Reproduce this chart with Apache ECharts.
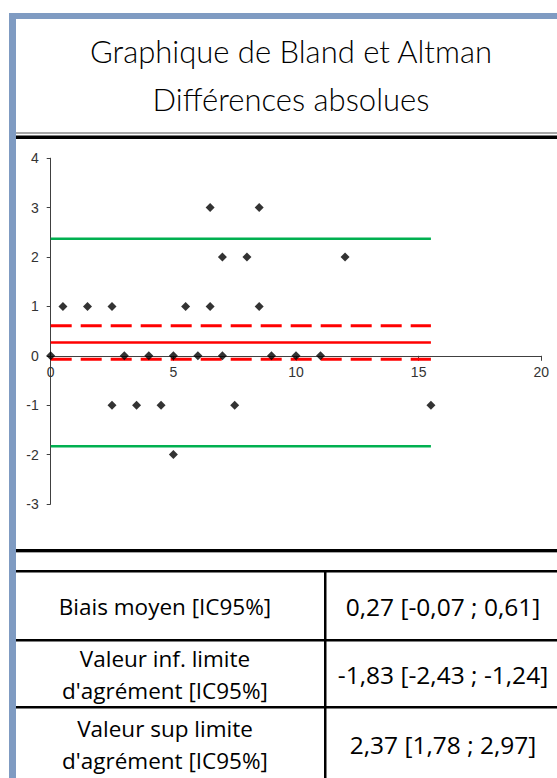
<!DOCTYPE html>
<html><head><meta charset="utf-8">
<script src="https://cdn.jsdelivr.net/npm/echarts@6/dist/echarts.min.js"></script>
<style>html,body{margin:0;padding:0;background:#fff}#c{width:557px;height:778px}</style>
</head><body><div id="c"></div>
<script>
// ---- data ----
const titleLines = ['Graphique de Bland et Altman', 'Différences absolues'];
const xValues = [0, 0.5, 1.5, 2.5, 2.5, 3, 3.5, 4, 4.5, 5, 5, 5.5, 6, 6.5, 6.5, 7, 7, 7.5, 8, 8.5, 8.5, 9, 10, 11, 12, 15.5];
const yValues = [0, 1, 1, 1, -1, 0, -1, 0, -1, 0, -2, 1, 0, 3, 1, 2, 0, -1, 2, 3, 1, 0, 0, 0, 2, -1];
const bias = 0.27;
const biasCI = [-0.07, 0.61];
const loa = [-1.83, 2.37];
const lineStartX = 0;
const lineEndX = 15.5;
const xRange = [0, 20, 5];
const yRange = [-3, 4, 1];
const tableLeft = [['Biais moyen [IC95%]'], ['Valeur inf. limite', "d'agrément [IC95%]"], ['Valeur sup limite', "d'agrément [IC95%]"]];
const tableRight = ['0,27 [-0,07 ; 0,61]', '-1,83 [-2,43 ; -1,24]', '2,37 [1,78 ; 2,97]'];

// ---- chart ----
const chart = echarts.init(document.getElementById('c'), null, {renderer: 'svg'});
const hline = (y, color, width, dash) => ({
  type: 'line', data: [[lineStartX, y], [lineEndX, y]], symbol: 'none', silent: true,
  lineStyle: {color: color, width: width, type: dash ? [21, 9] : 'solid', cap: 'butt'}, z: 1
});
const pts = xValues.map((x, i) => [x, yValues[i]]);

const gridTop = 158.2, gridH = 345.8;
const zeroOffset = gridH * (0 - yRange[0]) / (yRange[1] - yRange[0]);

const graphics = [];
const rect = (x, y, w, h, fill) => graphics.push({type: 'rect', shape: {x, y, width: w, height: h}, style: {fill}, silent: true, z: 100});
rect(9, 13, 7, 765, '#7f9bc2');
rect(9, 13, 548, 6, '#7f9bc2');
rect(16, 132, 541, 2, '#a6a6a6');
rect(16, 135.5, 541, 3.5, '#000');
rect(16, 549, 541, 3, '#000');
rect(16, 552, 541, 1, '#a6a6a6');
rect(16, 570, 541, 2.5, '#000');
rect(324, 570, 2.5, 208, '#000');
rect(16, 639, 541, 2.5, '#000');
rect(16, 706, 541, 2.5, '#000');
const titleY = [51, 99];
titleLines.forEach((t, i) => graphics.push({type: 'text', x: 291, y: titleY[i], silent: true,
  style: {text: t, font: '300 31px Lato', fill: '#000', align: 'center', verticalAlign: 'middle'}}));
const rowCenters = [606, 674, 744];
tableLeft.forEach((lines, i) => {
  const n = lines.length;
  lines.forEach((t, j) => graphics.push({type: 'text', x: 165, y: rowCenters[i] + (j - (n - 1) / 2) * 32, silent: true,
    style: {text: t, font: '22.5px "Open Sans"', fill: '#000', align: 'center', verticalAlign: 'middle'}}));
});
tableRight.forEach((t, i) => graphics.push({type: 'text', x: 443, y: rowCenters[i], silent: true,
  style: {text: t, font: '24.5px "Open Sans"', fill: '#000', align: 'center', verticalAlign: 'middle'}}));

const labelStyle = {color: '#333', fontFamily: '"Liberation Sans", Arial', fontSize: 14};
chart.setOption({
  animation: false,
  backgroundColor: '#fff',
  grid: {left: 50.7, top: gridTop, width: 490.6, height: gridH, containLabel: false},
  xAxis: {type: 'value', min: xRange[0], max: xRange[1], interval: xRange[2], position: 'bottom', offset: -zeroOffset,
    axisLine: {show: true, onZero: false, lineStyle: {color: '#404040', width: 1}},
    axisTick: {show: true, length: 5, lineStyle: {color: '#404040'}},
    axisLabel: Object.assign({margin: 9}, labelStyle), splitLine: {show: false}},
  yAxis: {type: 'value', min: yRange[0], max: yRange[1], interval: yRange[2],
    axisLine: {show: true, onZero: false, lineStyle: {color: '#404040', width: 1}},
    axisTick: {show: true, length: 4, lineStyle: {color: '#404040'}},
    axisLabel: Object.assign({margin: 12}, labelStyle), splitLine: {show: false}},
  graphic: graphics,
  series: [
    hline(loa[1], '#00b050', 2.5, false),
    hline(loa[0], '#00b050', 2.5, false),
    hline(bias, '#ff0000', 2.5, false),
    hline(biasCI[0], '#ff0000', 3, true),
    hline(biasCI[1], '#ff0000', 3, true),
    {type: 'scatter', data: pts, symbol: 'diamond', symbolSize: 9, itemStyle: {color: '#000'}, z: 5}
  ]
});
</script></body></html>
